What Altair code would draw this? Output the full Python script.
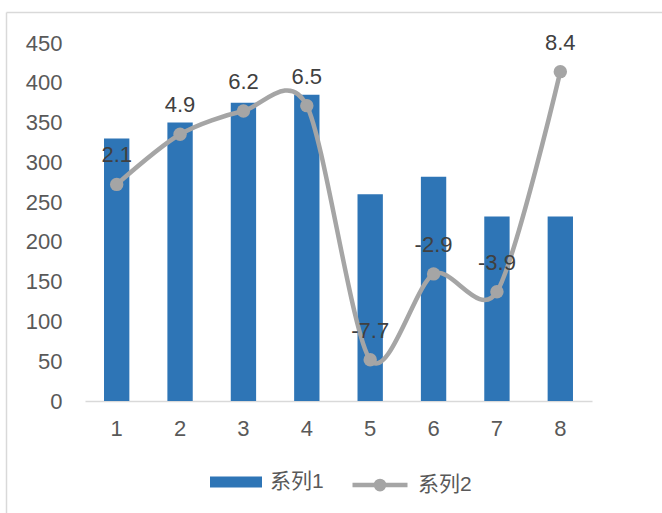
import altair as alt
import pandas as pd

# Category labels and the two series
categories = ["1", "2", "3", "4", "5", "6", "7", "8"]
series1 = [330, 350, 375, 385, 260, 282, 232, 232]
series2 = [2.1, 4.9, 6.2, 6.5, -7.7, -2.9, -3.9, 8.4]
left_ticks = [0, 50, 100, 150, 200, 250, 300, 350, 400, 450]
right_ticks = [-10, -8, -6, -4, -2, 0, 2, 4, 6, 8, 10]

df = pd.DataFrame({
    "cat": categories,
    "v1": series1,
    "v2": series2,
    "s1": ["系列1"] * len(categories),
    "s2": ["系列2"] * len(categories),
})
# point labels written with a plain hyphen for negatives
df["lab"] = [f"{v:.1f}" for v in series2]

FONT = "Liberation Sans, Arial, Noto Sans CJK SC"
BLUE = "#2E75B6"
GREY = "#A5A5A5"
W, H = 507, 358
FS = 22
HYPHEN = "replace(datum.label, '\u2212', '-')"

x_enc = alt.X(
    "cat:O",
    sort=categories,
    scale=alt.Scale(paddingInner=0.6, paddingOuter=0.3),
    axis=alt.Axis(
        title=None, labelAngle=0, ticks=False, domainColor="#D9D9D9",
        domainWidth=1.5, labelPadding=17, labelFontSize=FS,
        labelColor="#595959", labelFont=FONT,
    ),
)

bars = alt.Chart(df).mark_bar(strokeWidth=0).encode(
    x=x_enc,
    y=alt.Y(
        "v1:Q",
        scale=alt.Scale(domain=[0, 450], nice=False),
        axis=alt.Axis(
            title=None, values=left_ticks, domain=False, ticks=False,
            grid=False, labelPadding=23, labelFontSize=FS,
            labelColor="#595959", labelFont=FONT,
        ),
    ),
    fill=alt.Fill(
        "s1:N",
        scale=alt.Scale(domain=["系列1"], range=[BLUE]),
        legend=alt.Legend(
            title=None, orient="none", legendX=125, legendY=413,
            symbolType="M-1,-0.21H1V0.21H-1Z", symbolSize=2704,
            symbolStrokeWidth=0, labelOffset=8, padding=0,
            labelFontSize=21, labelColor="#595959", labelFont=FONT,
        ),
    ),
)

y2_scale = alt.Scale(domain=[-10, 10], nice=False)

line = alt.Chart(df).mark_line(
    interpolate="cardinal", tension=0.15, strokeWidth=4.5, strokeCap="round"
).encode(
    x=alt.X("cat:O", sort=categories),
    y=alt.Y(
        "v2:Q",
        scale=y2_scale,
        axis=alt.Axis(
            title=None, orient="right", values=right_ticks, domain=False,
            ticks=False, grid=False, labelPadding=21, labelFontSize=FS,
            labelColor="#595959", labelFont=FONT, labelExpr=HYPHEN,
        ),
    ),
    stroke=alt.Stroke(
        "s2:N",
        scale=alt.Scale(domain=["系列2"], range=[GREY]),
        legend=alt.Legend(
            title=None, orient="none", legendX=265, legendY=412,
            symbolType="M-1,0H1M0.15,0A0.15,0.15,0,1,1,-0.15,0A0.15,0.15,0,1,1,0.15,0Z",
            symbolSize=3025, symbolStrokeWidth=4.5, symbolFillColor=GREY,
            labelOffset=8, padding=0,
            labelFontSize=21, labelColor="#595959", labelFont=FONT,
        ),
    ),
)

points = alt.Chart(df).mark_circle(size=180, opacity=1).encode(
    x=alt.X("cat:O", sort=categories),
    y=alt.Y("v2:Q", scale=y2_scale, axis=None),
    color=alt.value(GREY),
)

labels = alt.Chart(df).mark_text(
    dy=-22, baseline="alphabetic", fontSize=FS, font=FONT, color="#404040"
).encode(
    x=alt.X("cat:O", sort=categories),
    y=alt.Y("v2:Q", scale=y2_scale, axis=None),
    text=alt.Text("lab:N"),
)

line_group = alt.layer(line, points, labels)

# Light frame around the chart area
frame_df = pd.DataFrame({"a": [0]})
frame_left = alt.Chart(frame_df).mark_rule(color="#D9D9D9", strokeWidth=1.5).encode(
    x=alt.value(-78.5), y=alt.value(-30.5), y2=alt.value(H + 120)
)
frame_top = alt.Chart(frame_df).mark_rule(color="#D9D9D9", strokeWidth=1.5).encode(
    x=alt.value(-78.5), x2=alt.value(W + 80), y=alt.value(-30.5)
)

chart = alt.layer(frame_left, frame_top, bars, line_group).resolve_scale(
    y="independent", fill="independent", stroke="independent"
).properties(
    width=W,
    height=H,
    autosize=alt.AutoSizeParams(type="none"),
    padding={"left": 85, "top": 43, "right": 70, "bottom": 112},
    background="white",
).configure_view(stroke=None)

chart.save("out.html", embed_options={"renderer": "svg", "actions": False})
